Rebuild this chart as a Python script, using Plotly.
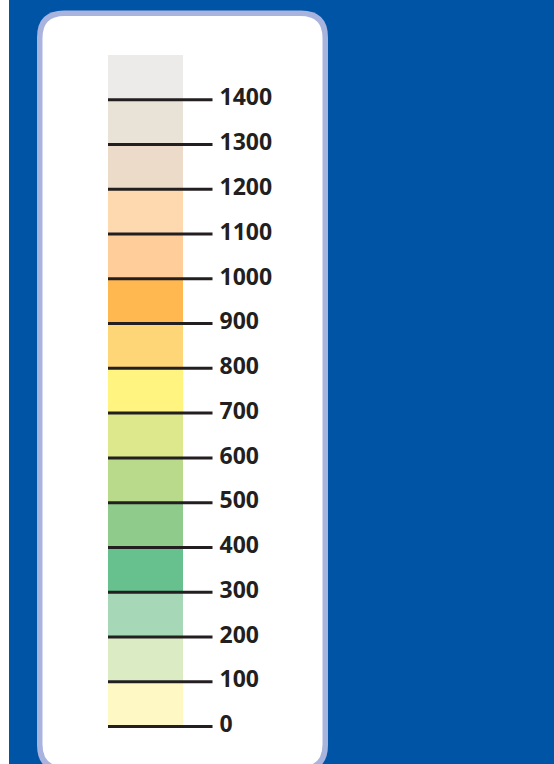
import plotly.graph_objects as go

# ---- data ----
band_lows = [0, 100, 200, 300, 400, 500, 600, 700, 800, 900, 1000, 1100, 1200, 1300, 1400]
band_highs = [100, 200, 300, 400, 500, 600, 700, 800, 900, 1000, 1100, 1200, 1300, 1400, 1500]
band_colors = ["#fef9c4", "#dbebc3", "#a6d8b8", "#66c18f", "#8fcb8b", "#b9d98b", "#dde78b",
               "#fff47f", "#fed677", "#ffb74f", "#ffcd9a", "#fed9b0", "#eddbc9", "#e9e2d6", "#edeaea"]
tick_values = [0, 100, 200, 300, 400, 500, 600, 700, 800, 900, 1000, 1100, 1200, 1300, 1400]
tick_labels = [str(v) for v in tick_values]

W, H = 554, 764
BLUE = "#0054a6"
INK = "#231f20"

# y scale: pixel = 726.5 - v*0.4477
px_per_unit = 0.4477
zero_px = 726.5
y_top = zero_px / px_per_unit
y_bot = -(H - zero_px) / px_per_unit

fig = go.Figure()

# color bands (stacked)
fig.add_trace(go.Bar(
    x=[145.5] * len(band_lows),
    y=[h - l for l, h in zip(band_lows, band_highs)],
    base=band_lows,
    width=75,
    marker=dict(color=band_colors, line=dict(width=0)),
    hoverinfo="skip",
    showlegend=False,
))

# tick lines
lx, ly = [], []
for v in tick_values:
    lx += [108, 212.5, None]
    ly += [v, v, None]
fig.add_trace(go.Scatter(
    x=lx, y=ly, mode="lines",
    line=dict(color=INK, width=3),
    hoverinfo="skip", showlegend=False,
))

# tick labels
fig.add_trace(go.Scatter(
    x=[219.5] * len(tick_values), y=tick_values, mode="text",
    text=tick_labels, textposition="middle right",
    textfont=dict(family="Open Sans", size=23, color=INK, weight="bold"),
    hoverinfo="skip", showlegend=False,
))


def px(x):
    return x / W


def py(y):
    return 1 - y / H


def rrect(x0, y0, x1, y1, r):
    pts = [
        f"M {px(x0 + r)},{py(y0)}",
        f"L {px(x1 - r)},{py(y0)}",
        f"Q {px(x1)},{py(y0)} {px(x1)},{py(y0 + r)}",
        f"L {px(x1)},{py(y1 - r)}",
        f"Q {px(x1)},{py(y1)} {px(x1 - r)},{py(y1)}",
        f"L {px(x0 + r)},{py(y1)}",
        f"Q {px(x0)},{py(y1)} {px(x0)},{py(y1 - r)}",
        f"L {px(x0)},{py(y0 + r)}",
        f"Q {px(x0)},{py(y0)} {px(x0 + r)},{py(y0)}",
        "Z",
    ]
    return " ".join(pts)


shapes = [
    dict(type="rect", xref="paper", yref="paper", x0=0, x1=px(9), y0=0, y1=1,
         fillcolor="white", line=dict(width=0), layer="below"),
    dict(type="path", xref="paper", yref="paper", path=rrect(37, 10.5, 328, 772, 27),
         fillcolor="#a9b4de", line=dict(width=0), layer="below"),
    dict(type="path", xref="paper", yref="paper", path=rrect(42.5, 16, 322.5, 766.5, 22),
         fillcolor="white", line=dict(width=0), layer="below"),
]

fig.update_layout(
    width=W, height=H,
    margin=dict(l=0, r=0, t=0, b=0),
    paper_bgcolor=BLUE,
    plot_bgcolor="rgba(0,0,0,0)",
    shapes=shapes,
    barmode="overlay",
    xaxis=dict(range=[0, W], visible=False, fixedrange=True),
    yaxis=dict(range=[y_bot, y_top], visible=False, fixedrange=True),
    showlegend=False,
)

fig.write_html(
    "out.html",
    config={"displayModeBar": False},
    post_script="document.body.style.margin='0';document.body.style.overflow='hidden';",
)
